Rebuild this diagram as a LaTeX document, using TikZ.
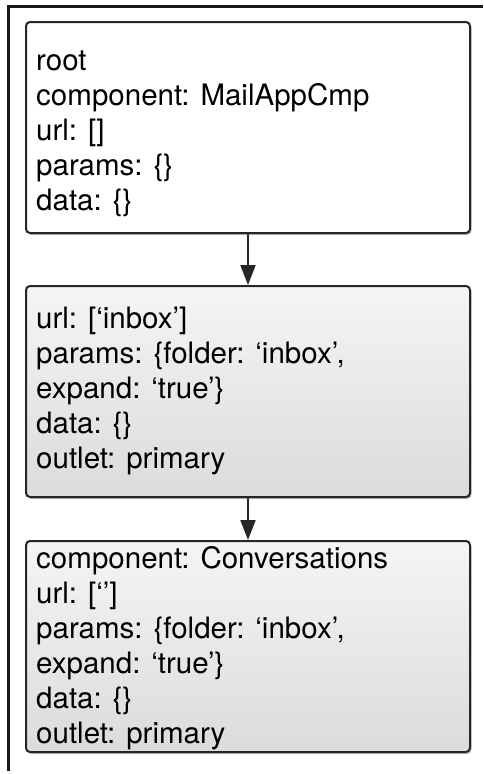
\documentclass[tikz,border=0pt]{standalone}
\usepackage{fontspec}
\setmainfont{TeX Gyre Heros}
\usetikzlibrary{arrows.meta,shadows}
\tikzset{
  box/.style={draw=black!85, line width=2pt, rounded corners=4pt,
    minimum width=444pt, minimum height=211pt, inner sep=0pt,
    drop shadow={shadow xshift=1.5pt, shadow yshift=-2pt, opacity=0.25, fill=black}},
  whitebox/.style={box, fill=white},
  greybox/.style={box, top color=white!96!black, bottom color=black!14},
  txt/.style={anchor=base west, inner sep=0pt, font=\fontsize{29.5}{35}\selectfont},
  arr/.style={draw=black!85, line width=2pt, -{Triangle[length=20pt,width=15pt]}},
}
\newcommand{\boxlines}[1]{\vtop{\baselineskip=35pt\lineskiplimit=-100pt #1}}
\begin{document}
\begin{tikzpicture}[x=1pt,y=-1pt]
\useasboundingbox (0,0) rectangle (483,774);
\draw[line width=3pt, black!90] (8,771) -- (8,6) -- (483,6);
\node[whitebox] (b1) at (248,127.5) {};
\node[greybox] (b2) at (248,391.5) {};
\node[greybox] (b3) at (248,646.5) {};
\node[txt] (t1) at (36,70) {\boxlines{\hbox{root}\hbox{component: MailAppCmp}\hbox{url: []}\hbox{params: \{\}}\hbox{data: \{\}}}};
\node[txt] (t2) at (36,328) {\boxlines{\hbox{url: [‘inbox’]}\hbox{params: \{folder: ‘inbox’,}\hbox{expand: ‘true’\}}\hbox{data: \{\}}\hbox{outlet: primary}}};
\node[txt] (t3) at (36,568) {\boxlines{\hbox{component: Conversations}\hbox{url: [‘’]}\hbox{params: \{folder: ‘inbox’,}\hbox{expand: ‘true’\}}\hbox{data: \{\}}\hbox{outlet: primary}}};
\draw[arr] (b1.south) -- (b2.north);
\draw[arr] (b2.south) -- (b3.north);
\end{tikzpicture}
\end{document}
